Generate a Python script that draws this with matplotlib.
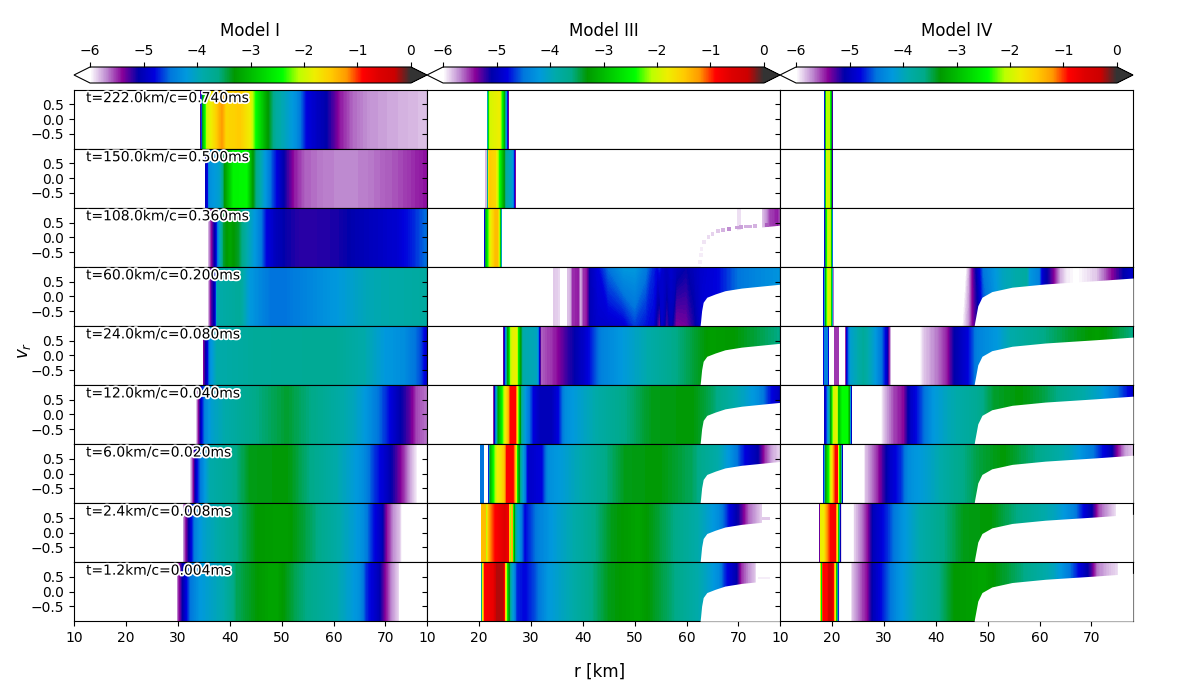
import numpy as np
import matplotlib
matplotlib.use('Agg')
import matplotlib.pyplot as plt
import matplotlib.patheffects as pe
from matplotlib.colors import LinearSegmentedColormap, Normalize
from matplotlib.cm import ScalarMappable

titles = ['Model I', 'Model III', 'Model IV']
times = ['t=222.0km/c=0.740ms', 't=150.0km/c=0.500ms', 't=108.0km/c=0.360ms',
         't=60.0km/c=0.200ms', 't=24.0km/c=0.080ms', 't=12.0km/c=0.040ms',
         't=6.0km/c=0.020ms', 't=2.4km/c=0.008ms', 't=1.2km/c=0.004ms']

# colours of the colorbar from -6 to 0, equal steps
cmap_colors = ['#ffffff', '#bf8cd1', '#870099', '#0000aa', '#0000dd', '#0077dd', '#0099dd',
               '#00aaaa', '#00aa88', '#009900', '#00bb00', '#00dd00', '#00ff00', '#bbff00',
               '#eeee00', '#ffcc00', '#ff9900', '#ff0000', '#dd0000', '#cc0000', '#333333']

# Model I, log10 of f against r
r1_222 = [10, 34.2, 34.3, 34.6, 34.8, 35.6, 36.8, 38.5, 39.4, 42, 43.9, 45, 47.1, 49, 52.9, 54.8, 58.7, 61.3, 63.8, 67, 70.2, 73.5, 78]
f1_222 = [-7, -7, -5.5, -4.5, -3.0, -2.0, -1.7, -1.2, -1.6, -1.5, -1.8, -2.4, -3.2, -3.8, -4.3, -4.8, -5.1, -5.45, -5.62, -5.72, -5.76, -5.79, -5.84]
r1_150 = [10, 35.1, 35.2, 35.7, 36.0, 38, 39, 40.7, 43.3, 44.3, 45.3, 47.8, 49.5, 51, 52.5, 54.5, 58, 62, 66, 70, 73, 76, 78]
f1_150 = [-7, -7, -5, -4.8, -4.3, -4.1, -3.3, -2.5, -2.45, -3.2, -3.7, -4.5, -4.9, -5.2, -5.45, -5.6, -5.66, -5.7, -5.67, -5.6, -5.55, -5.47, -5.42]
r1_108 = [10, 35.8, 35.9, 36.5, 37.2, 38.1, 38.8, 40, 41.7, 43.3, 45.8, 47.1, 49, 51, 54.2, 60.6, 64.5, 72.2, 75.4, 78]
f1_108 = [-7, -7, -5.8, -5.4, -5.0, -4.0, -3.4, -3.2, -3.4, -3.9, -4.4, -4.8, -5.0, -5.12, -5.2, -5.15, -5.05, -4.88, -4.7, -4.5]
r1_60 = [10, 35.8, 35.9, 36.4, 37.2, 37.5, 42, 43.9, 47.8, 51, 60.6, 67, 78]
f1_60 = [-7, -7, -5.8, -5.3, -4.9, -3.9, -3.75, -4.2, -4.5, -4.5, -4.2, -3.95, -3.8]
r1_24 = [10, 34.7, 34.8, 35.6, 36.2, 37.5, 45, 60, 66, 70, 73.5, 76.7, 78]
f1_24 = [-7, -7, -5.5, -4.9, -4.3, -3.9, -3.75, -3.7, -3.9, -4.2, -4.3, -4.6, -4.9]
r1_12 = [10, 33.5, 33.6, 34, 34.5, 35.2, 36.5, 39, 45, 51, 58, 64, 67, 70.2, 72.2, 74.7, 76, 78]
f1_12 = [-7, -7, -5.8, -5.4, -4.9, -4.4, -4.1, -3.9, -3.6, -3.4, -3.7, -4.0, -4.3, -4.7, -5.0, -5.3, -5.55, -5.65]
r1_6 = [10, 32.3, 32.4, 32.9, 33.5, 34.3, 36.2, 40, 43.9, 51, 55.5, 60.6, 65.7, 67.4, 70.2, 71.8, 73.5, 74.7, 76, 76.3, 78]
f1_6 = [-7, -7, -5.9, -5.5, -4.9, -4.5, -3.9, -3.7, -3.35, -3.3, -3.6, -3.9, -4.3, -4.6, -4.95, -5.2, -5.5, -5.75, -5.95, -7, -7]
r1_2 = [10, 30.9, 31, 31.4, 32.4, 33.3, 34.9, 38.8, 42.6, 45.2, 49, 51, 55.5, 60.6, 65.7, 67.4, 69.3, 70.2, 71.5, 72.8, 73.8, 78]
f1_2 = [-7, -7, -5.8, -5.5, -4.9, -4.4, -4.1, -3.8, -3.5, -3.3, -3.25, -3.25, -3.5, -3.85, -4.3, -4.7, -5.0, -5.4, -5.7, -5.85, -6.3, -7]
r1_1 = [10, 29.7, 29.8, 30.1, 31.1, 32.4, 34.3, 38.8, 41.3, 45.2, 47.8, 49, 52.9, 60.6, 65.1, 66.4, 68.6, 70, 71.2, 72.5, 73.1, 78]
f1_1 = [-7, -7, -5.8, -5.5, -5.0, -4.5, -4.2, -3.9, -3.5, -3.3, -3.2, -3.2, -3.5, -3.9, -4.3, -4.7, -5.0, -5.4, -5.7, -5.88, -6.5, -7]

# Model III
r3_222 = [10, 21.5, 21.6, 21.8, 22.1, 24.0, 24.5, 25.0, 25.3, 25.6, 25.75, 25.8, 78]
f3_222 = [-7, -7, -4.4, -2.8, -1.95, -1.8, -2.4, -3.2, -4.2, -5, -5.5, -7, -7]
r3_150 = [10, 21.15, 21.2, 21.6, 21.7, 22, 23.2, 23.8, 24.3, 25, 25.3, 26.4, 26.8, 27.0, 27.15, 27.2, 78]
f3_150 = [-7, -7, -5.8, -5.8, -2.0, -1.5, -1.6, -2.2, -2.7, -3.4, -3.8, -4.1, -4.6, -5.2, -5.7, -7, -7]
r3_108 = [10, 21.0, 21.05, 21.3, 21.7, 22.3, 23.1, 23.7, 24.0, 24.2, 24.4, 24.45, 69.6, 69.8, 70.5, 70.7, 74, 74.5, 75.5, 76, 77.5, 78]
f3_108 = [-7, -7, -5.0, -3.2, -2.4, -1.8, -1.4, -1.4, -2.2, -3.0, -4.4, -7, -7, -5.9, -5.9, -7, -7, -5.85, -5.7, -5.55, -5.45, -5.6]
r3_60 = [10, 34.2, 34.3, 35.7, 35.9, 36.7, 36.9, 37.6, 38, 39.2, 39.6, 40.1, 40.8, 41.6, 43, 45, 48, 50, 52, 53.5, 54.3, 54.8, 55.3, 56.2, 57, 58, 60, 61.5, 63, 66, 70, 74, 78]
f3_60 = [-7, -7, -5.85, -5.9, -7, -7, -5.85, -5.8, -5.5, -5.45, -5.8, -5.5, -5.45, -5.0, -4.9, -4.9, -4.85, -4.65, -4.75, -4.8, -5.2, -5.45, -4.9, -5.3, -5.0, -5.4, -5.35, -5.15, -4.85, -4.8, -4.5, -4.35, -4.25]
f3_60_top = [-7, -7, -5.85, -5.9, -7, -7, -5.85, -5.8, -5.5, -5.45, -5.8, -5.5, -5.45, -5.0, -4.8, -4.5, -4.2, -4.2, -4.45, -4.7, -4.8, -4.7, -4.9, -5.0, -4.9, -5.0, -5.1, -5.0, -4.9, -4.8, -4.5, -4.35, -4.25]
r3_24 = [10, 24.65, 24.7, 25, 25.4, 25.7, 26, 26.4, 27.3, 27.6, 28, 28.6, 31.2, 31.5, 31.8, 32, 34, 35.3, 37.2, 40.4, 43.7, 47.5, 53.3, 59, 64.8, 69.3, 73.8, 78]
f3_24 = [-7, -7, -5.4, -4.7, -3.5, -3, -2.2, -1.9, -1.8, -2.5, -3.2, -3.9, -4.0, -4.5, -5.1, -5.6, -5.5, -5.4, -5.2, -4.9, -4.4, -4.2, -3.85, -3.55, -3.25, -3.3, -3.45, -3.6]
r3_12 = [10, 22.75, 22.8, 23.1, 23.4, 23.7, 24.5, 25, 25.7, 26, 27.1, 27.3, 27.5, 27.9, 28.4, 29.2, 30.5, 31.8, 34, 35.3, 36.6, 43, 48.2, 53.3, 61, 64.8, 70, 73.8, 76.4, 78]
f3_12 = [-7, -7, -5.5, -4.8, -3.9, -3.2, -2.4, -1.9, -1.3, -0.9, -0.9, -1.3, -1.9, -3.1, -3.9, -4.3, -4.8, -5.0, -5.0, -4.8, -4.3, -3.85, -3.6, -3.35, -3.3, -3.5, -3.95, -4.3, -4.8, -5.0]
r3_6 = [10, 20.15, 20.2, 20.3, 20.9, 21.0, 21.1, 21.7, 21.8, 22.1, 22.8, 23.6, 24.3, 24.9, 25.3, 26.6, 27, 27.2, 27.6, 28.2, 29.5, 30.2, 32.1, 33.4, 35.3, 39.8, 44.3, 48.2, 54.6, 61, 66.1, 68.7, 71.3, 73.8, 75.1, 76.4, 78]
f3_6 = [-7, -7, -5.0, -4.5, -4.5, -5.0, -7, -7, -5.0, -3.2, -2.4, -1.8, -1.7, -1.4, -0.9, -0.85, -1.3, -1.8, -3.0, -3.9, -4.9, -4.9, -4.8, -4.3, -4.2, -3.9, -3.6, -3.35, -3.3, -3.5, -3.9, -4.3, -4.8, -5.1, -5.5, -5.75, -5.9]
r3_2 = [10, 20.35, 20.4, 20.5, 21.3, 21.5, 21.7, 22.1, 23.1, 25, 25.7, 26.1, 26.4, 26.8, 27.3, 28.9, 31.5, 35.3, 40.4, 45.6, 50.7, 57.8, 62.3, 66.1, 68.1, 70.3, 71.9, 73.8, 74.6, 74.7, 78]
f3_2 = [-7, -7, -3.0, -1.4, -1.4, -2.2, -1.5, -1.2, -0.9, -0.6, -0.8, -2.2, -0.9, -3.2, -4.0, -4.8, -4.4, -4.1, -3.75, -3.35, -3.2, -3.6, -3.9, -4.3, -4.75, -5.2, -5.6, -5.8, -5.9, -7, -7]
r3_1 = [10, 20.35, 20.4, 20.7, 21, 22.8, 23.4, 24.7, 24.9, 25.2, 25.7, 26.2, 27.3, 28.9, 30.8, 33.4, 37.9, 41.7, 45, 50.7, 57.1, 62.9, 66.1, 67.4, 69.7, 70.6, 71.9, 73.2, 73.8, 78]
f3_1 = [-7, -7, -4.5, -1.8, -0.9, -0.7, -0.25, -0.25, -0.8, -1.8, -3.0, -3.9, -4.7, -4.8, -4.6, -4.2, -3.9, -3.6, -3.35, -3.2, -3.55, -3.95, -4.3, -4.7, -5.1, -5.5, -5.7, -5.85, -6.2, -7]

# Model IV
r4_222 = [10, 18.5, 18.55, 18.7, 18.95, 19.65, 19.9, 20.1, 20.15, 78]
f4_222 = [-7, -7, -5, -3.2, -2.1, -2.1, -3.2, -4.6, -7, -7]
r4_150 = [10, 18.5, 18.55, 18.7, 18.95, 19.65, 19.9, 20.1, 20.15, 78]
f4_150 = [-7, -7, -4.8, -3.1, -2.0, -2.0, -3.1, -4.5, -7, -7]
r4_108 = [10, 18.4, 18.45, 18.6, 18.85, 19.2, 19.7, 20.0, 20.2, 20.25, 78]
f4_108 = [-7, -7, -5.5, -4.6, -2.8, -2.0, -2.0, -3.2, -5.5, -7, -7]
r4_60 = [10, 18.3, 18.35, 18.6, 18.9, 19.3, 19.8, 20.0, 20.2, 20.3, 44.9, 46.4, 47.3, 48.3, 49.2, 53.1, 57.6, 57.9, 59.8, 60.5, 62.7, 64, 65.3, 67.2, 71, 73.7, 76.2, 78]
f4_60 = [-7, -7, -5.6, -4.0, -2.4, -1.9, -2.1, -3.2, -5.5, -7, -6.05, -5.72, -5.35, -5.1, -4.7, -4.0, -3.8, -4.2, -4.4, -4.9, -5.4, -5.8, -5.95, -6, -5.85, -5.45, -5.1, -4.9]
f4_60_top = [-7, -7, -5.6, -4.0, -2.4, -1.9, -2.1, -3.2, -5.5, -7, -6.4, -5.8, -5.3, -4.9, -4.5, -4.0, -3.8, -4.2, -4.4, -4.9, -5.4, -5.8, -5.95, -6, -5.85, -5.45, -5.1, -4.9]
r4_24 = [10, 18.25, 18.3, 18.5, 19.2, 19.4, 19.5, 20.3, 20.5, 21.3, 21.5, 22.5, 22.7, 23.6, 26.1, 28, 29.6, 30.6, 31.1, 31.6, 36.7, 37.7, 40.3, 42.2, 43.5, 46, 48, 51.8, 54.4, 60.8, 65.9, 71.1, 73.7, 78]
f4_24 = [-7, -7, -5, -4.4, -4.4, -5, -7, -7, -5.5, -5.5, -6.2, -6.2, -5, -4.1, -3.75, -4.1, -4.5, -4.9, -5.5, -6.2, -6.05, -5.85, -5.65, -5.45, -5.1, -4.85, -4.4, -4.2, -3.9, -3.6, -3.4, -3.25, -3.35, -3.6]
r4_12 = [10, 18.45, 18.5, 19, 19.8, 20.2, 21, 21.3, 22, 23, 23.4, 23.7, 23.9, 23.95, 28.7, 30, 31.9, 33.8, 35.1, 37, 39.6, 42.8, 48, 51.2, 56.3, 60.8, 67.2, 71.7, 74.9, 78]
f4_12 = [-7, -7, -5, -4.6, -3.2, -2.0, -1.8, -3.0, -2.4, -2.4, -3.2, -4.7, -5.4, -7, -6.2, -5.85, -5.55, -5.4, -4.95, -4.65, -4.2, -3.95, -3.7, -3.4, -3.3, -3.45, -3.8, -4.1, -4.5, -4.9]
r4_6 = [10, 18.25, 18.3, 18.8, 19.4, 19.9, 20.3, 20.7, 21.1, 21.3, 21.6, 21.9, 22.1, 22.2, 25.8, 26.4, 28.7, 30, 31.3, 33.2, 34.8, 38.3, 43.5, 48, 53.1, 59.5, 65.9, 70.4, 73.7, 75, 76.5, 78]
f4_6 = [-7, -7, -5.0, -3.2, -2.4, -1.8, -1.2, -0.9, -0.9, -1.9, -3.0, -4.0, -5.4, -7, -6.2, -5.85, -5.5, -5.2, -4.9, -4.7, -4.3, -4.1, -3.7, -3.45, -3.3, -3.6, -4.0, -4.5, -5, -5.4, -5.75, -5.85]
r4_2 = [10, 17.55, 17.6, 17.8, 18.4, 18.9, 19.7, 20.7, 21.1, 21.5, 21.8, 22, 24, 24.2, 25.5, 26.8, 28, 30.6, 33.2, 37, 41.5, 45.4, 50.5, 57.6, 62.7, 66.6, 68.5, 70.1, 71.4, 73, 74.6, 75.3, 78]
f4_2 = [-7, -7, -5.5, -1.8, -1.8, -1.3, -0.9, -0.8, -1.8, -4.2, -5.8, -6.2, -6.2, -5.9, -5.7, -5.45, -5, -4.7, -4.3, -3.9, -3.6, -3.35, -3.3, -3.7, -4, -4.4, -4.8, -5.1, -5.55, -5.75, -5.9, -6.3, -7]
r4_1 = [10, 17.75, 17.8, 17.95, 18.2, 19.1, 19.4, 20, 20.3, 20.7, 20.95, 21.2, 21.4, 21.6, 23.2, 23.9, 25.5, 26.8, 28, 30, 32.5, 36.4, 40.2, 43.5, 49.2, 56.3, 62.7, 65.9, 67.9, 69.8, 71.1, 73, 75, 75.3, 78]
f4_1 = [-7, -7, -1.9, -3.0, -0.9, -0.9, -0.45, -0.45, -0.85, -1.8, -3.1, -4.1, -5.8, -6.2, -6.2, -5.85, -5.6, -5.4, -5.0, -4.7, -4.3, -3.9, -3.65, -3.3, -3.2, -3.55, -4, -4.5, -4.85, -5.2, -5.65, -5.8, -5.9, -6.3, -7]

r_rows = [[r1_222, r1_150, r1_108, r1_60, r1_24, r1_12, r1_6, r1_2, r1_1],
          [r3_222, r3_150, r3_108, r3_60, r3_24, r3_12, r3_6, r3_2, r3_1],
          [r4_222, r4_150, r4_108, r4_60, r4_24, r4_12, r4_6, r4_2, r4_1]]
f_rows = [[f1_222, f1_150, f1_108, f1_60, f1_24, f1_12, f1_6, f1_2, f1_1],
          [f3_222, f3_150, f3_108, f3_60, f3_24, f3_12, f3_6, f3_2, f3_1],
          [f4_222, f4_150, f4_108, f4_60, f4_24, f4_12, f4_6, f4_2, f4_1]]

# upper edge of the empty region below the ejecta
edge3_r = [62.6, 62.7, 62.9, 63.2, 63.9, 65.5, 67.4, 70.6, 74, 78]
edge3_v = [-1, -0.85, -0.49, -0.2, -0.03, 0.08, 0.19, 0.28, 0.34, 0.41]
edge4_r = [47.4, 47.5, 48.1, 48.9, 50.8, 54.7, 61.1, 70.8, 78]
edge4_v = [-1, -0.89, -0.32, -0.03, 0.16, 0.31, 0.42, 0.53, 0.62]

# isolated faint cells of Model III at t=108
dots_r = [62.6, 62.75, 62.9, 63.4, 64.2, 65, 66.1, 67, 68.2, 69.7, 70.5, 71.4, 72.2, 73.2, 75.5, 77]
dots_v = [-0.84, -0.6, -0.39, -0.15, 0.0, 0.12, 0.21, 0.25, 0.28, 0.33, 0.34, 0.36, 0.37, 0.39, 0.42, 0.44]
dots_f = [-5.95, -5.95, -5.95, -5.92, -5.9, -5.88, -5.85, -5.8, -5.7, -5.75, -5.75, -5.78, -5.78, -5.8, -5.6, -5.5]

# thin tails along the edge of Model III at the two earliest times
tail_r = [[74.6, 76], [73.8, 76]]
tail_low = [0.43, 0.44]
tail_high = [0.53, 0.5]
tail_f = [-5.85, -5.95]

cmap = LinearSegmentedColormap.from_list('spec', cmap_colors, N=512)
cmap.set_under('white')
cmap.set_over('#333333')
norm = Normalize(-6, 0)
levels = np.linspace(-6, 0, 301)

fig, axes = plt.subplots(9, 3, figsize=(12, 7), dpi=100)
fig.subplots_adjust(left=74 / 1200, right=1133 / 1200, top=1 - 89.6 / 700, bottom=1 - 621.2 / 700, wspace=0, hspace=0)

for c in range(3):
    for i in range(9):
        ax = axes[i, c]
        top = f_rows[c][i]
        if (c, i) == (1, 3):
            top = f3_60_top
        if (c, i) == (2, 3):
            top = f4_60_top
        ax.contourf(r_rows[c][i], [-1, 1], [f_rows[c][i], top], levels=levels, cmap=cmap, norm=norm, extend='both')
        if c == 1 and i >= 2:
            ax.fill_between(edge3_r, -1, edge3_v, color='white', lw=0, zorder=3)
        if c == 2 and i >= 3:
            ax.fill_between(edge4_r, -1, edge4_v, color='white', lw=0, zorder=3)
        if (c, i) == (1, 2):
            ax.scatter(dots_r, dots_v, c=dots_f, cmap=cmap, norm=norm, s=7, marker='s', lw=0, zorder=4)
        if c == 1 and i >= 7:
            k = i - 7
            ax.fill_between(tail_r[k], tail_low[k], tail_high[k], color=cmap(norm(tail_f[k])), lw=0, zorder=4)
        ax.set_xlim(10, 78)
        ax.set_ylim(-1, 1)
        ax.set_yticks([-0.5, 0, 0.5])
        if c > 0:
            ax.set_yticklabels([])
        if i < 8:
            ax.set_xticks([])
        else:
            ax.set_xticks(range(10, 80, 10))
        if c == 0:
            ax.text(0.034, 0.855, times[i], transform=ax.transAxes, va='center', fontsize=10, zorder=6,
                    path_effects=[pe.withStroke(linewidth=2.5, foreground='white')])

lefts = [74, 427, 780]
for c in range(3):
    cax = fig.add_axes([lefts[c] / 1200, 1 - 83 / 700, 353 / 1200, 16 / 700])
    cb = fig.colorbar(ScalarMappable(norm=norm, cmap=cmap), cax=cax, orientation='horizontal', extend='both')
    cb.set_ticks([-6, -5, -4, -3, -2, -1, 0])
    cax.xaxis.set_ticks_position('top')
    cax.tick_params(pad=3)
    cax.set_title(titles[c], fontsize=12, pad=6)

fig.text(0.5, 1 - 672 / 700, 'r [km]', ha='center', va='center', fontsize=12)
fig.text(24 / 1200, 0.5, '$v_r$', ha='center', va='center', rotation=90, fontsize=12)

fig.savefig('out.png', dpi=100)
